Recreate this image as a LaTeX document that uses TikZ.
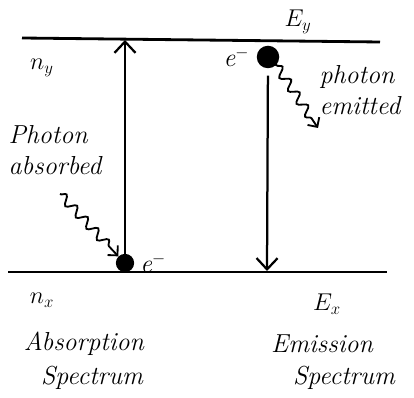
\documentclass[tikz,border=0pt]{standalone}
\usepackage{amsmath}
\usetikzlibrary{arrows.meta,positioning,decorations.pathmorphing}
\tikzset{level/.style={line width=2pt},
  trans/.style={line width=1.6pt,-{Straight Barb[length=8pt,width=15pt,line width=1.6pt]}},
  wavy/.style={line width=1.3pt,decorate,decoration={snake,amplitude=3.2pt,segment length=11pt,post length=7pt},
    -{Straight Barb[length=5pt,width=10pt,line width=1.3pt]}},
  elec/.style={circle,fill=black,inner sep=0pt,minimum size=13pt},
  lbl/.style={font=\fontsize{18.5}{22}\selectfont\itshape,inner sep=1pt}}

\begin{document}
\begin{tikzpicture}[x=0.025cm,y=-0.025cm]
\useasboundingbox (0,0) rectangle (414,398);
% energy levels
\coordinate (yl) at (22,38);
\coordinate (yr) at (380,42);
\coordinate (xl) at (8,272);
\coordinate (xr) at (387,272);
\draw[level] (yl) -- (yr);
\draw[level] (xl) -- (xr);
% electrons
\node[elec] (ea) at (125,263) {};
\node[elec,minimum size=16pt] (ee) at (268,57) {};
\node[lbl,right=3pt of ea] (ela) {e$^-$};
\node[lbl,left=4pt of ee] (ele) {e$^-$};
% transitions
\coordinate (at) at (125,40);
\coordinate (eb) at (267,271);
\draw[trans] (ea) -- (at);
\draw[trans,shorten <=5pt] (ee) -- (eb);
% photons
\coordinate (pa) at (60,194);
\coordinate (pe) at (318,128);
\draw[wavy] (pa) -- (ea.north west);
\draw[wavy,shorten <=3pt] (ee.south east) -- (pe);
% labels
\node[lbl] (Ey) at (298,22) {$E_y$};
\node[lbl] (ny) at (42,68) {$n_y$};
\node[lbl,align=left] (abs) at (55,150) {Photon\\absorbed};
\node[lbl,align=left] (emi) at (360,90) {photon\\emitted};
\node[lbl] (nx) at (42,300) {$n_x$};
\node[lbl] (Ex) at (327,304) {$E_x$};
\node[lbl] (absA) at (84,344) {Absorption};
\node[lbl] (absS) at (92,378) {Spectrum};
\node[lbl] (emiE) at (322,344) {Emission};
\node[lbl] (emiS) at (344,378) {Spectrum};
\end{tikzpicture}
\end{document}
